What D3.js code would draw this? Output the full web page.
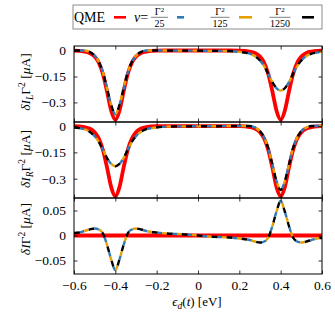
<!DOCTYPE html>
<html>
<head>
<meta charset="utf-8">
<style>
body { margin: 0; background: #fff; }
svg { font-family: "Liberation Serif", "DejaVu Serif", serif; }
svg text { font-family: "Liberation Serif", "DejaVu Serif", serif; }
.frame { fill: none; stroke: #000; stroke-width: 1; }
</style>
</head>
<body>
<svg width="335" height="315"></svg>
<script src="https://d3js.org/d3.v7.min.js"></script>
<script>
// values
var eps = [-0.6, -0.575, -0.55, -0.525, -0.5, -0.48, -0.46, -0.44, -0.42, -0.4,
  -0.38, -0.36, -0.34, -0.32, -0.3, -0.275, -0.25, -0.2, -0.15, -0.1, -0.05,
  0, 0.05, 0.1, 0.15, 0.2, 0.25, 0.275, 0.3, 0.32, 0.34, 0.36, 0.38, 0.4,
  0.42, 0.44, 0.46, 0.48, 0.5, 0.525, 0.55, 0.575, 0.6];

// QME (same for L and R)
var qmeI = [-0.001, -0.002, -0.006, -0.014, -0.035, -0.071, -0.136, -0.237, -0.348, -0.400,
  -0.348, -0.237, -0.136, -0.071, -0.035, -0.014, -0.006, -0.001, 0, 0, 0,
  0, 0, 0, 0, -0.001, -0.006, -0.014, -0.035, -0.071, -0.136, -0.237, -0.348, -0.400,
  -0.348, -0.237, -0.136, -0.071, -0.035, -0.014, -0.006, -0.002, -0.001];

// driven curves (v = G^2/25, G^2/125, G^2/1250 lie on top of each other)
var drivenL = [0, 0, 0, -0.008, -0.030, -0.066, -0.127, -0.221, -0.314, -0.368,
  -0.314, -0.221, -0.127, -0.066, -0.030, -0.008, 0, 0, 0, -0.001, -0.001,
  -0.001, -0.002, -0.002, -0.003, -0.008, -0.018, -0.032, -0.058, -0.090, -0.135, -0.183, -0.218, -0.232,
  -0.218, -0.183, -0.135, -0.090, -0.058, -0.032, -0.018, -0.012, -0.008];

var drivenR = [-0.008, -0.012, -0.018, -0.032, -0.058, -0.090, -0.135, -0.183, -0.216, -0.229,
  -0.216, -0.183, -0.135, -0.090, -0.058, -0.032, -0.018, -0.008, -0.003, -0.002, -0.002,
  -0.001, -0.001, -0.001, 0, 0, 0, -0.008, -0.030, -0.066, -0.127, -0.221, -0.314, -0.365,
  -0.314, -0.221, -0.127, -0.066, -0.030, -0.008, 0, 0, 0];

var drivenD = [0.005, 0.006, 0.009, 0.012, 0.014, 0.012, 0.004, -0.019, -0.048, -0.069,
  -0.048, -0.019, 0.004, 0.012, 0.014, 0.012, 0.009, 0.006, 0.004, 0.003, 0.002,
  0, -0.002, -0.003, -0.004, -0.006, -0.009, -0.012, -0.014, -0.012, -0.004, 0.019, 0.048, 0.069,
  0.048, 0.019, -0.004, -0.012, -0.014, -0.012, -0.009, -0.006, -0.005];

var qmeDx = [-0.6, 0.6];
var qmeD = [0, 0];

var xTicks = [-0.6, -0.4, -0.2, 0, 0.2, 0.4, 0.6];
var xTickLabels = ["\u22120.6", "\u22120.4", "\u22120.2", "0", "0.2", "0.4", "0.6"];
var yTicksI = [0, -0.15, -0.3];
var yTickLabelsI = ["0", "\u22120.15", "\u22120.3"];
var yTicksD = [0.05, 0, -0.05];
var yTickLabelsD = ["0.05", "0", "\u22120.05"];

var legendLabels = ["QME", "25", "125", "1250"];

var svg = d3.select("svg");
var x0 = 74, x1 = 322;
var x = d3.scaleLinear().domain([-0.6, 0.6]).range([x0, x1]);

var red = "#ff0000", blue = "#2b7bba", orange = "#e69f00";

function drawPanel(id, top, bottom, domain, ticks, labels, curves, showX) {
  var y = d3.scaleLinear().domain(domain).range([bottom, top]);
  var g = svg.append("g");

  svg.append("clipPath").attr("id", "clip" + id)
    .append("rect").attr("x", x0).attr("y", top).attr("width", x1 - x0).attr("height", bottom - top);

  var lines = g.append("g").attr("clip-path", "url(#clip" + id + ")");
  curves.forEach(function(c) {
    var line = d3.line()
      .x(function(d, i) { return x(c.xs[i]); })
      .y(function(d) { return y(d); })
      .curve(d3.curveMonotoneX);
    lines.append("path")
      .attr("d", line(c.ys))
      .attr("fill", "none")
      .attr("stroke", c.color)
      .attr("stroke-width", c.width)
      .attr("stroke-dasharray", c.dash || null)
      .attr("stroke-dashoffset", c.offset || 0);
  });

  var tk = 3.5;
  var bottomAxis = d3.axisBottom(x).tickValues(xTicks).tickSizeInner(-tk).tickSizeOuter(0).tickPadding(6)
    .tickFormat(function(d, i) { return showX ? xTickLabels[i] : ""; });
  var topAxis = d3.axisTop(x).tickValues(xTicks).tickSizeInner(-tk).tickSizeOuter(0).tickFormat("");
  var leftAxis = d3.axisLeft(y).tickValues(ticks).tickSizeInner(-tk).tickSizeOuter(0).tickPadding(8)
    .tickFormat(function(d, i) { return labels[i]; });
  var rightAxis = d3.axisRight(y).tickValues(ticks).tickSizeInner(-tk).tickSizeOuter(0).tickFormat("");

  [[bottomAxis, "translate(0," + bottom + ")"], [topAxis, "translate(0," + top + ")"],
   [leftAxis, "translate(" + x0 + ",0)"], [rightAxis, "translate(" + x1 + ",0)"]].forEach(function(a) {
    var ax = g.append("g").attr("transform", a[1]).call(a[0]);
    ax.select(".domain").remove();
    ax.selectAll("line").attr("stroke", "#000").attr("stroke-width", 0.8);
    ax.attr("font-family", "Liberation Serif, DejaVu Serif, serif").attr("font-size", 13.5);
    ax.selectAll("text").attr("fill", "#000");
  });

  g.append("rect").attr("class", "frame")
    .attr("x", x0).attr("y", top).attr("width", x1 - x0).attr("height", bottom - top);
  return g;
}

function driven(ys) {
  return [
    {xs: eps, ys: ys, color: "#000", width: 2.4, dash: "6,9", offset: 0},
    {xs: eps, ys: ys, color: blue, width: 2.4, dash: "4.5,10.5", offset: -6},
    {xs: eps, ys: ys, color: orange, width: 2.4, dash: "4.5,10.5", offset: -10.5}
  ];
}

drawPanel(1, 46, 122, [-0.413, 0.026], yTicksI, yTickLabelsI,
  [{xs: eps, ys: qmeI, color: red, width: 3.8}].concat(driven(drivenL)), false);
drawPanel(2, 122, 198, [-0.410, 0.023], yTicksI, yTickLabelsI,
  [{xs: eps, ys: qmeI, color: red, width: 3.8}].concat(driven(drivenR)), false);
drawPanel(3, 198, 274, [-0.077, 0.075], yTicksD, yTickLabelsD,
  [{xs: qmeDx, ys: qmeD, color: red, width: 3.8}].concat(driven(drivenD)), true);

// y labels
function yLabel(cx, cy, sub) {
  var t = svg.append("text")
    .attr("transform", "translate(" + cx + "," + cy + ") rotate(-90)")
    .attr("text-anchor", "middle")
    .attr("font-size", 13.5);
  t.append("tspan").attr("font-style", "italic").text("\u03b4I");
  if (sub) t.append("tspan").attr("font-style", "italic").attr("font-size", 9.5).attr("dy", 3).text(sub);
  t.append("tspan").attr("dy", sub ? -3 : 0).text("\u0393");
  t.append("tspan").attr("font-size", 9.5).attr("dy", -5).text("2");
  t.append("tspan").attr("dy", 5).text(" [");
  t.append("tspan").attr("font-style", "italic").text("\u03bc");
  t.append("tspan").text("A]");
}
yLabel(30, 82, "L");
yLabel(30, 159, "R");
yLabel(30, 229, null);

// x label
var xl = svg.append("text").attr("x", 197).attr("y", 306).attr("text-anchor", "middle").attr("font-size", 13);
xl.append("tspan").attr("font-style", "italic").text("\u03f5");
xl.append("tspan").attr("font-style", "italic").attr("font-size", 9.5).attr("dy", 3).text("d");
xl.append("tspan").attr("dy", -3).text("(");
xl.append("tspan").attr("font-style", "italic").text("t");
xl.append("tspan").text(") [eV]");

// legend
var lg = svg.append("g");
lg.append("rect").attr("x", 73).attr("y", 5).attr("width", 249).attr("height", 24)
  .attr("fill", "#fff").attr("stroke", "#8c8c8c").attr("stroke-width", 1);
lg.append("text").attr("x", 74).attr("y", 21.5).attr("font-size", 14).text(legendLabels[0]);

function handle(xa, xb, color) {
  lg.append("line").attr("x1", xa).attr("x2", xb).attr("y1", 17.3).attr("y2", 17.3)
    .attr("stroke", color).attr("stroke-width", 2.6);
}
function frac(cx, den) {
  var n = lg.append("text").attr("x", cx).attr("y", 15.3).attr("text-anchor", "middle").attr("font-size", 10);
  n.append("tspan").text("\u0393");
  n.append("tspan").attr("font-size", 7).attr("dy", -3.5).text("2");
  lg.append("line").attr("x1", cx - 6.5 - den.length).attr("x2", cx + 6.5 + den.length)
    .attr("y1", 17.3).attr("y2", 17.3).attr("stroke", "#000").attr("stroke-width", 0.5);
  lg.append("text").attr("x", cx).attr("y", 26.5).attr("text-anchor", "middle").attr("font-size", 10).text(den);
}
handle(114, 126, red);
var vt = lg.append("text").attr("x", 134).attr("y", 21.5).attr("font-size", 14);
vt.append("tspan").attr("font-style", "italic").text("v");
vt.append("tspan").text("=");
frac(159.5, legendLabels[1]);
handle(177, 184, blue);
frac(220, legendLabels[2]);
handle(239, 252, orange);
frac(280, legendLabels[3]);
handle(302, 314, "#000");
</script>
</body>
</html>
